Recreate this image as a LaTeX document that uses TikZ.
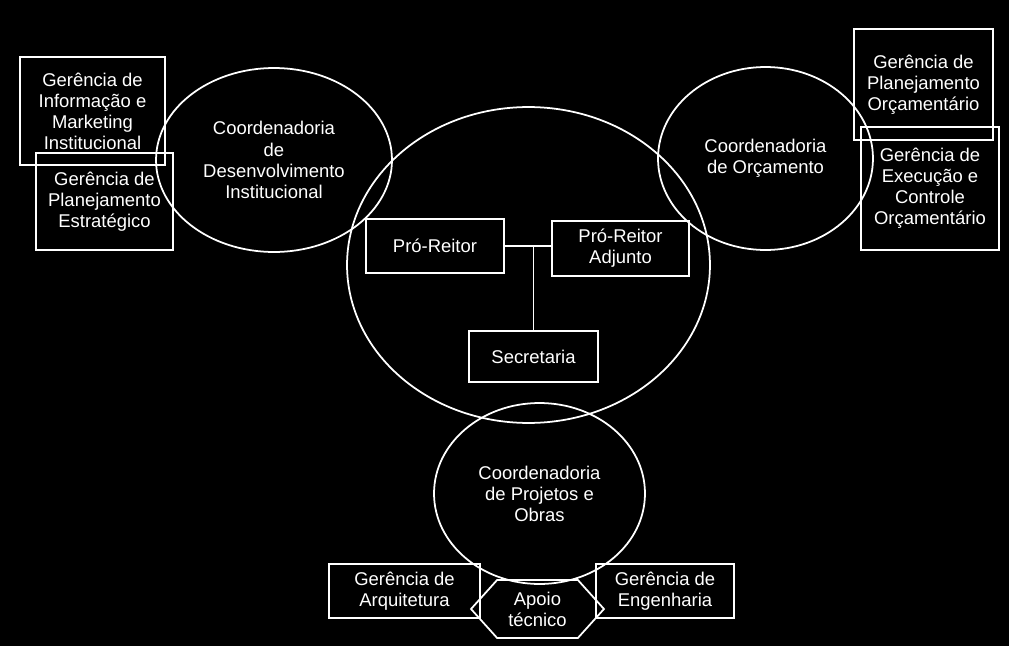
\documentclass[tikz,border=0pt]{standalone}
\usepackage{fontspec}
\setmainfont{Liberation Sans}
\usepackage{tikz}
\usetikzlibrary{shapes.geometric,shapes.symbols}

\tikzset{
  unit/.style={draw=white, line width=1pt, text=white, align=center, inner sep=0pt,
    font=\fontsize{10.5}{12}\selectfont},
  boxunit/.style={unit, rectangle},
  ellunit/.style={unit, ellipse},
}

\begin{document}
\begin{tikzpicture}[x=0.02cm, y=-0.02cm]
  % Background
  \fill[black] (0,0) rectangle (1009,646);
  \useasboundingbox (0,0) rectangle (1009,646);

  % Coordenadoria de Desenvolvimento Institucional
  \node[boxunit, minimum width=2.9cm, minimum height=2.16cm] (gim) at (92.5,111) {Gerência de\\Informação e\\Marketing\\Institucional};
  \node[boxunit, minimum width=2.74cm, minimum height=1.94cm] (gpe) at (104.5,201.5) {Gerência de\\Planejamento\\Estratégico};
  \node[ellunit, minimum width=4.72cm, minimum height=3.68cm] (cdi) at (274,160) {Coordenadoria\\de\\Desenvolvimento\\Institucional};

  % Coordenadoria de Orcamento
  \node[ellunit, minimum width=4.3cm, minimum height=3.66cm] (co) at (765.5,158.5) {Coordenadoria\\de Orçamento};
  \node[boxunit, minimum width=2.78cm, minimum height=2.22cm] (gpo) at (923.5,84.5) {Gerência de\\Planejamento\\Orçamentário};
  \node[boxunit, minimum width=2.76cm, minimum height=2.46cm] (geco) at (930,188.5) {Gerência de\\Execução e\\Controle\\Orçamentário};

  % Pro-Reitoria
  \node[ellunit, minimum width=7.26cm, minimum height=6.32cm] (pro) at (528.5,265) {};
  \node[boxunit, minimum width=2.76cm, minimum height=1.08cm] (pr) at (435,246) {Pró-Reitor};
  \node[boxunit, minimum width=2.74cm, minimum height=1.1cm] (pra) at (620.5,248.5) {Pró-Reitor\\Adjunto};
  \node[boxunit, minimum width=2.58cm, minimum height=1.02cm] (sec) at (533.5,356.5) {Secretaria};
  \draw[white, line width=1pt] (pr.east) -- (pr.east -| pra.west);
  \draw[white, line width=1pt] (sec.north) -- (sec.north |- pr.east);

  % Coordenadoria de Projetos e Obras
  \node[ellunit, minimum width=4.22cm, minimum height=3.62cm] (cpo) at (539.5,493.5) {Coordenadoria\\de Projetos e\\Obras};
  \node[boxunit, minimum width=3.02cm, minimum height=1.08cm] (ga) at (404.5,591) {Gerência de\\Arquitetura};
  \node[boxunit, minimum width=2.76cm, minimum height=1.08cm] (ge) at (665,591) {Gerência de\\Engenharia};
  \node[unit, shape=signal, signal to=west and east, signal pointer angle=96,
    minimum width=2.66cm, minimum height=1.16cm] (apoio) at (537.5,609) {Apoio\\técnico};
\end{tikzpicture}
\end{document}
